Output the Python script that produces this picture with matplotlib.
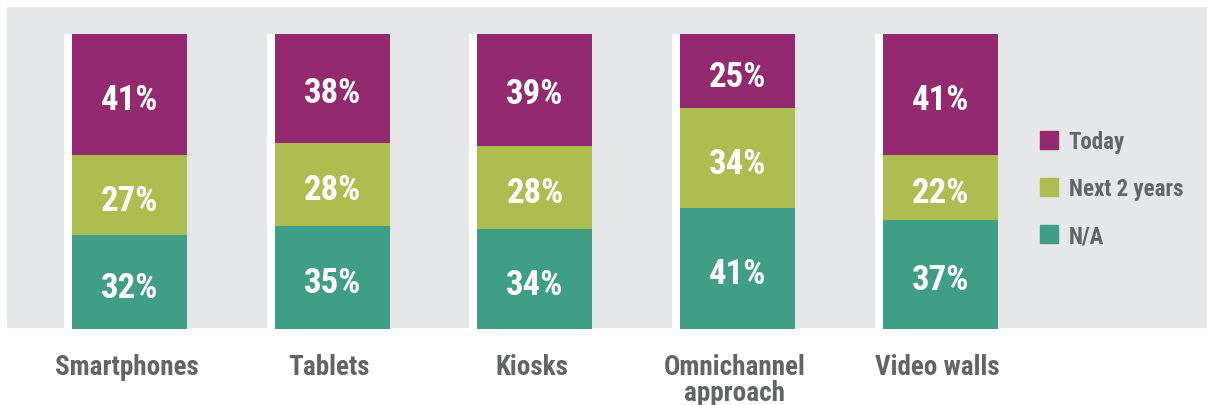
import matplotlib
matplotlib.use("Agg")
import matplotlib.pyplot as plt
from matplotlib.patches import Rectangle
import numpy as np

# Survey data: share of respondents per technology
categories = ["Smartphones", "Tablets", "Kiosks", "Omnichannel\napproach", "Video walls"]
na_vals = [32, 35, 34, 41, 37]
next2_vals = [27, 28, 28, 34, 22]
today_vals = [41, 38, 39, 25, 41]
series_names = ["Today", "Next 2 years", "N/A"]

C_TODAY = "#93296F"
C_NEXT = "#ADBD50"
C_NA = "#409E87"
C_PANEL = "#E6E7E8"
C_TEXT = "#636466"

FONT = ["Roboto Condensed", "Archivo Narrow", "Barlow Semi Condensed", "DejaVu Sans"]
plt.rcParams["font.family"] = FONT

W, H = 1207, 406
fig = plt.figure(figsize=(W / 100, H / 100), dpi=100)

# Light grey panel behind the chart
fig.patches.append(Rectangle((7 / W, (H - 328) / H), 1200 / W, 320 / H,
                             transform=fig.transFigure, color=C_PANEL, zorder=-1))

ax = fig.add_axes([0, (H - 330) / H, 1, 295 / H])
ax.set_facecolor("none")
ax.set_zorder(1)

step = 202.75
x = np.arange(len(categories))
bw = 115 / step
strip = 8 / step
ax.set_xlim(-129.5 / step, (W - 129.5) / step)
ax.set_ylim(0, 100)
ax.axis("off")

totals = np.array(na_vals) + np.array(next2_vals) + np.array(today_vals)
# White strip on the left edge of each column
ax.bar(x - bw / 2 - strip, totals, width=bw + strip, align="edge", color="white", zorder=1)

bottom = np.zeros(len(x))
for vals, col in [(na_vals, C_NA), (next2_vals, C_NEXT), (today_vals, C_TODAY)]:
    vals = np.array(vals)
    ax.bar(x - bw / 2, vals, width=bw, bottom=bottom, align="edge", color=col,
           linewidth=0, zorder=2)
    for xi, b, v in zip(x, bottom, vals):
        ax.text(xi, b + v / 2 - 1.8, f"{v}%", ha="center", va="center",
                color="white", fontsize=25, fontweight="bold", zorder=3)
    bottom += vals

# Category labels under the columns
for xi, cat in zip(x, categories):
    ax.annotate(cat, xy=(xi, 0), xytext=(-3, -24), textcoords="offset pixels",
                ha="center", va="top", fontsize=19.5, fontweight="bold",
                color=C_TEXT, linespacing=0.95)

handles = [Rectangle((0, 0), 1, 1, color=c) for c in (C_TODAY, C_NEXT, C_NA)]
leg = ax.legend(handles, series_names, loc="upper left",
                bbox_to_anchor=(1040 / W, (H - 131) / H), bbox_transform=fig.transFigure,
                frameon=False, fontsize=16.5, handlelength=0.8, handleheight=0.8,
                handletextpad=0.45, labelspacing=1.05, borderpad=0, borderaxespad=0)
for t in leg.get_texts():
    t.set_color(C_TEXT)
    t.set_fontweight("bold")

fig.savefig("out.png", dpi=100)
